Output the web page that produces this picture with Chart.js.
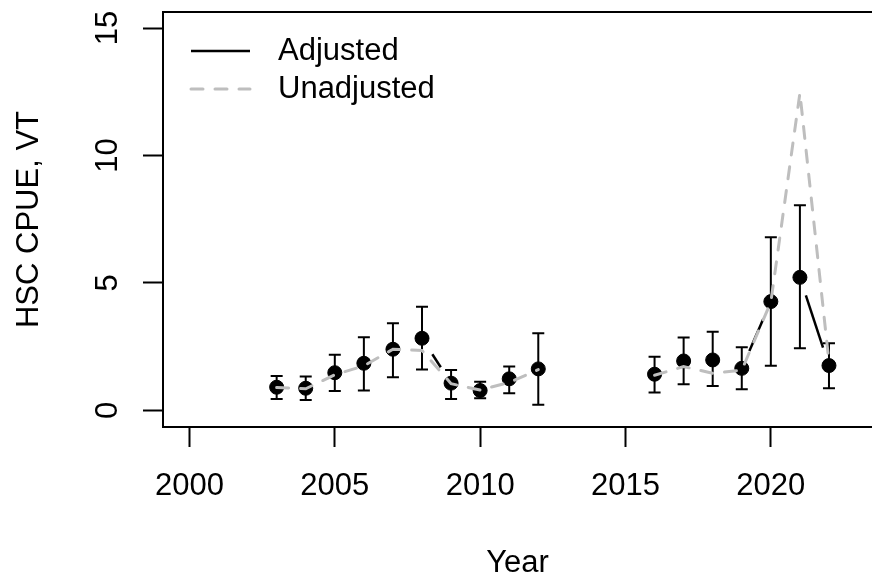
<!DOCTYPE html>
<html>
<head>
<meta charset="utf-8">
<script src="https://cdn.jsdelivr.net/npm/chart.js@4"></script>
<style>
html,body{margin:0;padding:0;background:#fff;overflow:hidden;}
#wrap{width:872px;height:577px;position:relative;}
</style>
</head>
<body>
<div id="wrap"><canvas id="c" width="872" height="577"></canvas></div>
<script>
// ---- data ----
const years      = [2003,2004,2005,2006,2007,2008,2009,2010,2011,2012,2013,2014,2015,2016,2017,2018,2019,2020,2021,2022];
const adjusted   = [0.91,0.87,1.48,1.85,2.40,2.83,1.07,0.78,1.24,1.63,null,null,null,1.42,1.94,1.98,1.65,4.27,5.22,1.76];
const lowerCI    = [0.45,0.41,0.76,0.78,1.30,1.61,0.45,0.48,0.67,0.22,null,null,null,0.70,1.03,0.96,0.83,1.75,2.44,0.87];
const upperCI    = [1.35,1.33,2.18,2.87,3.42,4.07,1.59,1.13,1.72,3.03,null,null,null,2.11,2.86,3.09,2.48,6.79,8.05,2.64];
const unadjusted = [0.90,0.85,1.40,1.75,2.40,2.35,1.05,0.80,1.10,1.60,null,null,null,1.38,1.72,1.46,1.58,4.25,12.45,1.90];
const xTickValues = [2000,2005,2010,2015,2020];
const yTickValues = [0,5,10,15];
const seriesLabels = ['Adjusted','Unadjusted'];

const FONT = 'Liberation Sans, Arial, Helvetica, sans-serif';
const FSIZE = 31;
const GRAY = '#bebebe';

const pts = (arr) => years.map((y,i) => ({x:y, y:arr[i]}));

const customDraw = {
  id: 'customDraw',
  beforeDatasetsDraw(chart) {
    const ctx = chart.ctx, xs = chart.scales.x, ys = chart.scales.y;
    ctx.save();
    ctx.strokeStyle = '#000';
    ctx.lineWidth = 2;
    years.forEach((yr,i) => {
      if (lowerCI[i] == null) return;
      const px = xs.getPixelForValue(yr);
      const lo = ys.getPixelForValue(lowerCI[i]);
      const hi = ys.getPixelForValue(upperCI[i]);
      ctx.beginPath();
      ctx.moveTo(px, lo); ctx.lineTo(px, hi);
      ctx.moveTo(px-6, lo); ctx.lineTo(px+6, lo);
      ctx.moveTo(px-6, hi); ctx.lineTo(px+6, hi);
      ctx.stroke();
    });
    const gap = 19;
    ctx.lineWidth = 2.5;
    for (let i = 0; i < years.length-1; i++) {
      if (adjusted[i] == null || adjusted[i+1] == null) continue;
      const x0 = xs.getPixelForValue(years[i]), y0 = ys.getPixelForValue(adjusted[i]);
      const x1 = xs.getPixelForValue(years[i+1]), y1 = ys.getPixelForValue(adjusted[i+1]);
      const d = Math.hypot(x1-x0, y1-y0);
      if (d <= 2*gap) continue;
      const ux = (x1-x0)/d, uy = (y1-y0)/d;
      ctx.beginPath();
      ctx.moveTo(x0+ux*gap, y0+uy*gap);
      ctx.lineTo(x1-ux*gap, y1-uy*gap);
      ctx.stroke();
    }
    ctx.restore();
  },
  afterDraw(chart) {
    const ctx = chart.ctx, a = chart.chartArea, ys = chart.scales.y;
    ctx.save();
    ctx.strokeStyle = '#000';
    ctx.lineWidth = 2;
    ctx.beginPath();
    ctx.moveTo(a.left, a.top); ctx.lineTo(a.right + 2, a.top);
    ctx.stroke();
    ctx.fillStyle = '#000';
    ctx.font = FSIZE + 'px ' + FONT;
    ctx.textAlign = 'center';
    ctx.textBaseline = 'alphabetic';
    yTickValues.forEach(v => {
      const py = ys.getPixelForValue(v);
      ctx.save();
      ctx.translate(117, py);
      ctx.rotate(-Math.PI/2);
      ctx.fillText(String(v), 0, 0);
      ctx.restore();
    });
    const ds = chart.data.datasets;
    const rows = [{y:51, ds: ds[1]}, {y:89, ds: ds[0]}];
    ctx.textAlign = 'left';
    ctx.textBaseline = 'middle';
    rows.forEach(r => {
      ctx.beginPath();
      ctx.strokeStyle = r.ds.legendColor;
      ctx.lineWidth = r.ds.legendWidth;
      ctx.lineCap = r.ds.legendDash.length ? 'round' : 'butt';
      ctx.setLineDash(r.ds.legendDash);
      ctx.moveTo(191, r.y); ctx.lineTo(250, r.y);
      ctx.stroke();
      ctx.setLineDash([]);
      ctx.fillStyle = '#000';
      ctx.fillText(r.ds.label, 278, r.y);
    });
    ctx.restore();
  }
};

new Chart(document.getElementById('c'), {
  type: 'scatter',
  data: {
    datasets: [
      {
        label: seriesLabels[1],
        type: 'line',
        data: pts(unadjusted),
        borderColor: GRAY,
        borderWidth: 3,
        borderDash: [12, 12],
        borderCapStyle: 'round',
        pointRadius: 0,
        spanGaps: false,
        fill: false,
        tension: 0,
        order: 0,
        legendColor: GRAY, legendWidth: 3, legendDash: [12, 12]
      },
      {
        label: seriesLabels[0],
        data: pts(adjusted),
        backgroundColor: '#000',
        borderColor: '#000',
        borderWidth: 1,
        pointRadius: 7,
        pointHoverRadius: 7,
        showLine: false,
        order: 1,
        legendColor: '#000', legendWidth: 2.5, legendDash: []
      }
    ]
  },
  options: {
    responsive: false,
    animation: false,
    events: [],
    layout: { autoPadding: false, padding: { top: 12, right: 0, bottom: 0, left: 0 } },
    plugins: { legend: { display: false }, tooltip: { enabled: false } },
    scales: {
      x: {
        type: 'linear',
        min: 1999.09,
        max: 2023.48,
        afterBuildTicks: s => { s.ticks = xTickValues.map(v => ({ value: v })); },
        afterFit: s => { s.height = 150; s.paddingLeft = 0; s.paddingRight = 0; },
        grid: { display: true, drawOnChartArea: false, drawTicks: true, tickLength: 20, tickWidth: 2, tickColor: '#000' },
        border: { display: true, color: '#000', width: 2 },
        ticks: { color: '#000', font: { family: FONT, size: FSIZE }, padding: 21, maxRotation: 0, autoSkip: false, callback: v => String(v) },
        title: { display: true, text: 'Year', color: '#000', font: { family: FONT, size: FSIZE, lineHeight: 1 }, padding: { top: 0, bottom: -2 } }
      },
      y: {
        type: 'linear',
        min: -0.65,
        max: 15.63,
        afterBuildTicks: s => { s.ticks = yTickValues.map(v => ({ value: v })); },
        afterFit: s => { s.width = 163; s.paddingTop = 0; s.paddingBottom = 0; },
        grid: { display: true, drawOnChartArea: false, drawTicks: true, tickLength: 20, tickWidth: 2, tickColor: '#000' },
        border: { display: true, color: '#000', width: 2 },
        ticks: { display: false },
        title: { display: true, text: 'HSC CPUE, VT', color: '#000', font: { family: FONT, size: FSIZE }, padding: { top: 11, bottom: 0 } }
      }
    }
  },
  plugins: [customDraw]
});
</script>
</body>
</html>
